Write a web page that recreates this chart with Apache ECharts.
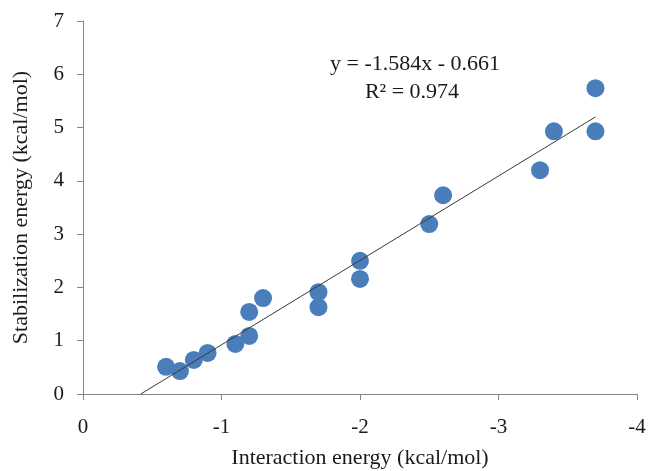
<!DOCTYPE html>
<html>
<head>
<meta charset="utf-8">
<script src="https://cdn.jsdelivr.net/npm/echarts@6/dist/echarts.min.js"></script>
<style>html,body{margin:0;padding:0;background:#fff}#c{width:649px;height:471px}</style>
</head>
<body>
<div id="c"></div>
<script>
const interactionEnergy = [-0.6, -0.7, -0.8, -0.9, -1.1, -1.2, -1.2, -1.3, -1.7, -1.7, -2.0, -2.0, -2.5, -2.6, -3.3, -3.4, -3.7, -3.7];
const stabilizationEnergy = [0.51, 0.43, 0.64, 0.77, 0.94, 1.09, 1.54, 1.80, 1.91, 1.63, 2.50, 2.16, 3.19, 3.73, 4.20, 4.93, 4.93, 5.74];
const trendSlope = -1.584;
const trendIntercept = -0.661;
const trendXRange = [-0.417, -3.7];
const xTicks = [0, -1, -2, -3, -4];
const yTicks = [0, 1, 2, 3, 4, 5, 6, 7];

const points = interactionEnergy.map((x, i) => [x, stabilizationEnergy[i]]);
const trend = trendXRange.map(x => [x, trendSlope * x + trendIntercept]);

const font = '"Liberation Serif", "DejaVu Serif", serif';
const chart = echarts.init(document.getElementById('c'), null, {renderer: 'canvas'});
chart.setOption({
  animation: false,
  backgroundColor: '#ffffff',
  grid: {left: 83, right: 12, top: 21, bottom: 77, containLabel: false, outerBoundsMode: 'none'},
  xAxis: {
    type: 'value', inverse: true, min: -4, max: 0, interval: 1,
    splitLine: {show: false},
    axisLine: {lineStyle: {color: '#868686', width: 1}},
    axisTick: {show: true, inside: false, length: 6, lineStyle: {color: '#868686'}},
    axisLabel: {fontFamily: font, fontSize: 21, color: '#1a1a1a', margin: 23,
      formatter: v => xTicks.includes(v) ? String(v) : ''},
    name: 'Interaction energy (kcal/mol)', nameLocation: 'middle', nameGap: 53,
    nameTextStyle: {fontFamily: font, fontSize: 22, color: '#1a1a1a'}
  },
  yAxis: {
    type: 'value', min: 0, max: 7, interval: 1,
    splitLine: {show: false},
    axisLine: {show: true, lineStyle: {color: '#868686', width: 1}},
    axisTick: {show: true, inside: false, length: 6, lineStyle: {color: '#868686'}},
    axisLabel: {fontFamily: font, fontSize: 21, color: '#1a1a1a', margin: 19,
      formatter: v => yTicks.includes(v) ? String(v) : ''},
    name: 'Stabilization energy (kcal/mol)', nameLocation: 'middle', nameGap: 51,
    nameTextStyle: {fontFamily: font, fontSize: 22, color: '#1a1a1a'}
  },
  graphic: [
    {type: 'text', x: 415, y: 64, style: {text: 'y = -1.584x - 0.661', font: '22px "Liberation Serif", serif', fill: '#1a1a1a', align: 'center', verticalAlign: 'middle'}},
    {type: 'text', x: 412, y: 92, style: {text: 'R\u00B2 = 0.974', font: '22px "Liberation Serif", serif', fill: '#1a1a1a', align: 'center', verticalAlign: 'middle'}}
  ],
  series: [
    {type: 'scatter', data: points, symbolSize: 18,
      itemStyle: {color: '#4a7ebb', opacity: 1}, z: 2},
    {type: 'line', data: trend, symbol: 'none', silent: true,
      lineStyle: {color: '#3a3a3a', width: 1}, z: 3}
  ]
});
</script>
</body>
</html>
